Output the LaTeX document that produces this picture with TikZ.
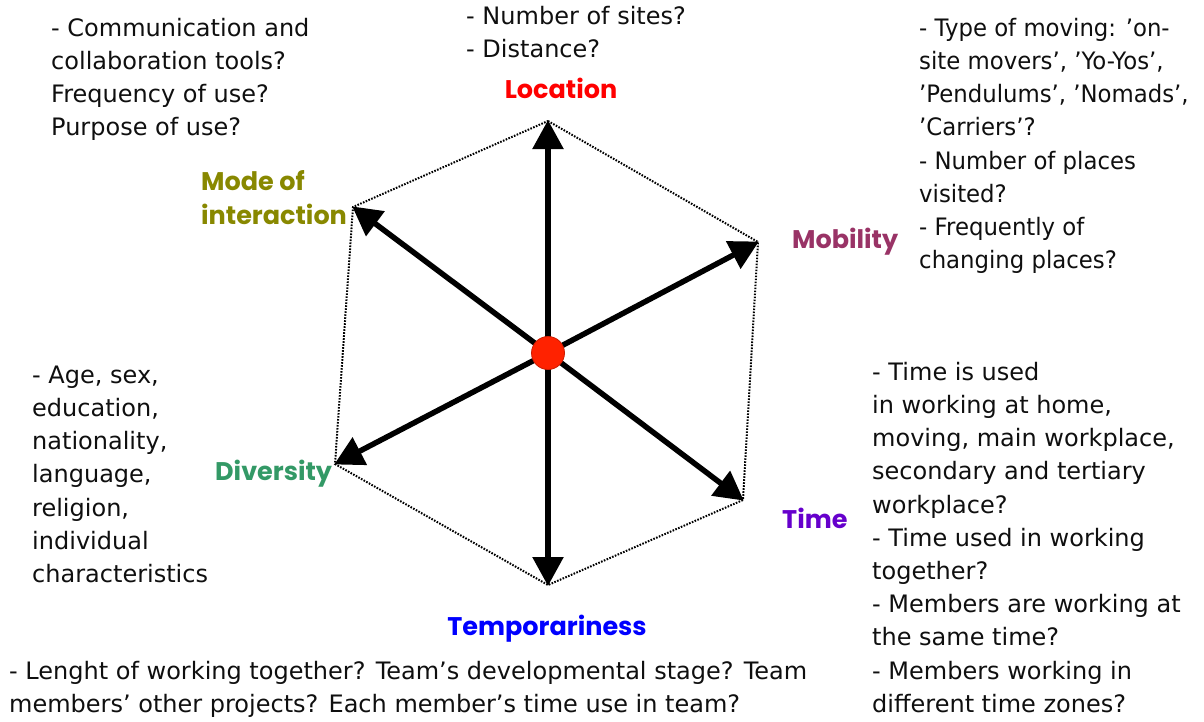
\documentclass[tikz,border=0pt]{standalone}
\usepackage{fontspec}
\usetikzlibrary{arrows.meta}
\newfontfamily\bodyfont[FakeStretch=1.0]{DejaVu Sans}
\newfontfamily\bodynarrow[FakeStretch=0.95]{DejaVu Sans}
\newfontfamily\labfont{Poppins}
\definecolor{cloc}{RGB}{255,0,0}
\definecolor{cmode}{RGB}{136,136,0}
\definecolor{cmob}{RGB}{153,51,102}
\definecolor{cdiv}{RGB}{51,153,102}
\definecolor{ctime}{RGB}{102,0,204}
\definecolor{ctemp}{RGB}{0,0,255}
\definecolor{cdot}{RGB}{255,34,0}
\definecolor{ctext}{RGB}{15,15,15}
\newcommand{\fl}{\rule{0pt}{24pt}}
\newcommand{\lfl}{\rule{0pt}{26pt}}
\begin{document}
\begin{tikzpicture}[x=1pt,y=-1pt,
  body/.style={font=\bodyfont\fontsize{24}{33.2}\selectfont, text=ctext, align=left, inner sep=0pt, anchor=north west},
  lab/.style={font=\labfont\bfseries\fontsize{25.5}{34}\selectfont, inner sep=0pt},
  axis/.style={line width=5.5pt, -{Triangle[length=29pt,width=30pt]}, shorten >=-1pt},
  hexa/.style={line width=2pt, dash pattern=on 1.6pt off 1.4pt}]
\useasboundingbox (0,0) rectangle (1204,721);
% vertices
\coordinate (vT) at (548,121);
\coordinate (vUR) at (758,242);
\coordinate (vLR) at (743,500);
\coordinate (vB) at (548,585);
\coordinate (vLL) at (335,464);
\coordinate (vUL) at (353,207);
\coordinate (c) at (548,353);
% dotted hexagon
\draw[hexa] (vT) -- (vUR) -- (vLR) -- (vB) -- (vLL) -- (vUL) -- cycle;
% axes
\foreach \v in {vT,vUR,vLR,vB,vLL,vUL}
  \draw[axis] (c) -- (\v);
\node[circle, fill=cdot, draw=cdot!80!black, line width=0.8pt, minimum size=33pt, inner sep=0pt] (hub) at (c) {};
% labels
\node[lab, text=cloc, anchor=base] (loc) at (561,98) {Location};
\node[lab, text=cmode, align=left, anchor=north west] (mode) at (201,164) {\lfl Mode of\\interaction};
\node[lab, text=cmob, anchor=base west] (mob) at (792,248) {Mobility};
\node[lab, text=cdiv, anchor=base west] (div) at (215,480) {Diversity};
\node[lab, text=ctime, anchor=base west] (time) at (782,528) {Time};
\node[lab, text=ctemp, anchor=base] (temp) at (547,635) {Temporariness};
% texts
\node[body] (t1) at (51,12) {\fl - Communication and\\collaboration tools?\\Frequency of use?\\Purpose of use?};
\node[body] (t2) at (466,0) {\fl - Number of sites?\\- Distance?};
\node[body, font=\bodynarrow\fontsize{24}{33.2}\selectfont] (t3) at (919,12) {\fl - Type of moving: ’on-\\site movers’, ’Yo-Yos’,\\’Pendulums’, ’Nomads’,\\’Carriers’?\\- Number of places\\visited?\\- Frequently of\\changing places?};
\node[body] (t4) at (32,359) {\fl - Age, sex,\\education,\\nationality,\\language,\\religion,\\individual\\characteristics};
\node[body] (t5) at (872,356) {\fl - Time is used\\in working at home,\\moving, main workplace,\\secondary and tertiary\\workplace?\\- Time used in working\\together?\\- Members are working at\\the same time?\\- Members working in\\different time zones?};
\node[body] (t6) at (9,655) {\fl - Lenght of working together? Team’s developmental stage? Team\\members’ other projects? Each member’s time use in team?};
\end{tikzpicture}
\end{document}
